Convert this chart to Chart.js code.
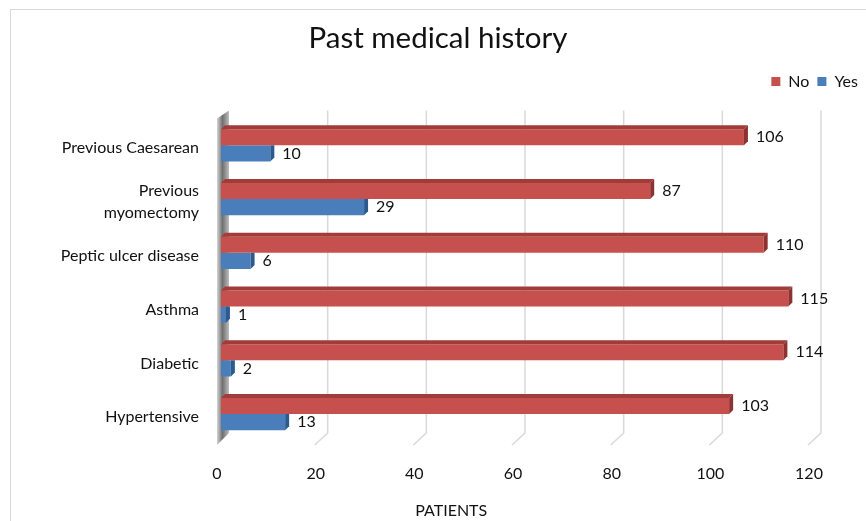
<!DOCTYPE html>
<html>
<head>
<meta charset="utf-8">
<title>Past medical history</title>
<script src="https://cdn.jsdelivr.net/npm/chart.js@4.4.0/dist/chart.umd.min.js"></script>
<style>
    body { margin: 0; background: #fff; }
    canvas { display: block; }
</style>
</head>
<body>
<canvas id="history-chart" width="866" height="521"></canvas>
<script>
const historyChart = document.getElementById('history-chart');

// Data //
const categories = ['Previous Caesarean', ['Previous', 'myomectomy'], 'Peptic ulcer disease', 'Asthma', 'Diabetic', 'Hypertensive'];
const noValues = [106, 87, 110, 115, 114, 103];
const yesValues = [10, 29, 6, 1, 2, 13];
const xTicks = [0, 20, 40, 60, 80, 100, 120];

const fontName = 'Lato, "Open Sans", sans-serif';
const depth = 4;

// outer frame of the chart //
const framePlugin = {
    id: 'frame',
    beforeDraw(chart) {
        const ctx = chart.ctx;
        ctx.save();
        ctx.fillStyle = '#fff';
        ctx.fillRect(0, 0, chart.width, chart.height);
        ctx.strokeStyle = '#d9d9d9';
        ctx.lineWidth = 1;
        ctx.strokeRect(10.5, 9.5, chart.width + 50, chart.height + 50);
        ctx.restore();
    }
};

// 3d style back grid + side wall //
const wallPlugin = {
    id: 'wall',
    beforeDatasetsDraw(chart) {
        const ctx = chart.ctx;
        const area = chart.chartArea;
        const xScale = chart.scales.x;
        ctx.save();
        ctx.strokeStyle = '#d9d9d9';
        ctx.lineWidth = 1.5;
        xTicks.slice(1).forEach(v => {
            const px = xScale.getPixelForValue(v);
            ctx.beginPath();
            ctx.moveTo(px + 8, area.top - 8);
            ctx.lineTo(px + 8, area.bottom - 8);
            ctx.lineTo(px - 5, area.bottom + 4);
            ctx.stroke();
        });
        const left = xScale.getPixelForValue(0);
        const grad = ctx.createLinearGradient(left - 4, 0, left + 8, 0);
        grad.addColorStop(0, '#d4d4d4');
        grad.addColorStop(0.45, '#6f6f6f');
        grad.addColorStop(1, '#bdbdbd');
        ctx.fillStyle = grad;
        ctx.beginPath();
        ctx.moveTo(left - 4, area.top);
        ctx.lineTo(left + 8, area.top - 8);
        ctx.lineTo(left + 8, area.bottom - 8);
        ctx.lineTo(left - 4, area.bottom + 4);
        ctx.closePath();
        ctx.fill();
        ctx.restore();
    }
};

// bar caps + value labels //
const barFacesPlugin = {
    id: 'barFaces',
    afterDatasetsDraw(chart) {
        const ctx = chart.ctx;
        ctx.save();
        chart.data.datasets.forEach((ds, i) => {
            const meta = chart.getDatasetMeta(i);
            meta.data.forEach((bar, j) => {
                const p = bar.getProps(['x', 'y', 'base', 'height'], true);
                const top = p.y - p.height / 2;
                const bottom = p.y + p.height / 2;
                if (i === 0) {
                    ctx.fillStyle = ds.topColor;
                    ctx.beginPath();
                    ctx.moveTo(p.base, top);
                    ctx.lineTo(p.base + depth, top - depth);
                    ctx.lineTo(p.x + depth, top - depth);
                    ctx.lineTo(p.x, top);
                    ctx.closePath();
                    ctx.fill();
                    ctx.fillStyle = ds.sideColor;
                    ctx.beginPath();
                    ctx.moveTo(p.x, top);
                    ctx.lineTo(p.x + depth, top - depth);
                    ctx.lineTo(p.x + depth, bottom - depth);
                    ctx.lineTo(p.x, bottom);
                    ctx.closePath();
                    ctx.fill();
                } else {
                    ctx.fillStyle = ds.sideColor;
                    ctx.beginPath();
                    ctx.moveTo(p.x, top);
                    ctx.lineTo(p.x + depth, top);
                    ctx.lineTo(p.x + depth, bottom - depth);
                    ctx.lineTo(p.x, bottom);
                    ctx.closePath();
                    ctx.fill();
                }
                ctx.fillStyle = '#111';
                ctx.font = '16px ' + fontName;
                ctx.textAlign = 'left';
                ctx.textBaseline = 'middle';
                ctx.fillText(ds.data[j], p.x + 12, p.y);
            });
        });
        ctx.restore();
    }
};

// axis title, sits left of the plot centre like the original //
const axisTitlePlugin = {
    id: 'axisTitle',
    afterDraw(chart) {
        const ctx = chart.ctx;
        ctx.save();
        ctx.fillStyle = '#111';
        ctx.font = '16px ' + fontName;
        ctx.textAlign = 'center';
        ctx.textBaseline = 'middle';
        ctx.fillText('PATIENTS', chart.width * 0.521, chart.height - 10);
        ctx.restore();
    }
};

new Chart(historyChart, {
    type: 'bar',
    data: {
        labels: categories,
        datasets: [{
            label: 'No',
            data: noValues,
            backgroundColor: '#c6504d',
            topColor: '#a13c3a',
            sideColor: '#8c3230',
            borderWidth: 0,
            categoryPercentage: 0.6,
            barPercentage: 1.0
        }, {
            label: 'Yes',
            data: yesValues,
            backgroundColor: '#4a7ebb',
            topColor: '#35639b',
            sideColor: '#2c5a8f',
            borderWidth: 0,
            categoryPercentage: 0.6,
            barPercentage: 1.0
        }]
    },
    options: {
        indexAxis: 'y',
        responsive: false,
        animation: false,
        devicePixelRatio: 1,
        layout: {
            padding: { left: 10, right: 0, top: 11, bottom: 35 }
        },
        plugins: {
            title: {
                display: true,
                text: 'Past medical history',
                color: '#111',
                font: { family: fontName, size: 29.5, weight: 'normal' },
                padding: { top: 10, bottom: 9 }
            },
            legend: {
                display: true,
                position: 'top',
                align: 'end',
                labels: {
                    boxWidth: 9,
                    boxHeight: 9,
                    padding: 8,
                    color: '#111',
                    font: { family: fontName, size: 16 }
                }
            },
            tooltip: { enabled: false }
        },
        scales: {
            x: {
                min: 0,
                max: 120,
                ticks: {
                    stepSize: 20,
                    color: '#111',
                    font: { family: fontName, size: 16 },
                    padding: 23,
                    labelOffset: -4
                },
                grid: { display: false, drawTicks: false },
                border: { display: false },
                afterFit: scale => { scale.height = 45; }
            },
            y: {
                ticks: {
                    color: '#111',
                    font: { family: fontName, size: 16, lineHeight: 1.4 },
                    padding: 22,
                    labelOffset: 3
                },
                grid: { display: false, drawTicks: false },
                border: { display: false },
                afterFit: scale => { scale.width = 211; }
            },
            x2: {
                type: 'linear',
                position: 'top',
                ticks: { display: false },
                grid: { display: false, drawTicks: false },
                border: { display: false },
                afterFit: scale => { scale.height = 19; }
            },
            y2: {
                type: 'linear',
                position: 'right',
                ticks: { display: false },
                grid: { display: false, drawTicks: false },
                border: { display: false },
                afterFit: scale => { scale.width = 53; }
            }
        }
    },
    plugins: [framePlugin, wallPlugin, barFacesPlugin, axisTitlePlugin]
});
</script>
</body>
</html>
